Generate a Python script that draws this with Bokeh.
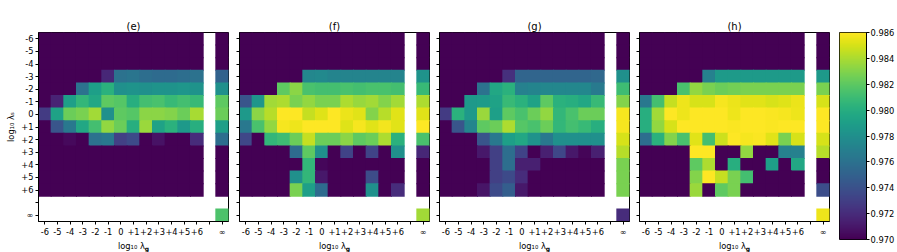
import numpy as np
from bokeh.plotting import figure
from bokeh.models import ColumnDataSource, LinearColorMapper, FixedTicker, Range1d
from bokeh.layouts import row, column
from bokeh.palettes import Viridis256
from bokeh.embed import file_html
from bokeh.resources import INLINE
from bokeh.core.properties import value

# ---------------- data ----------------
log_lambda_g = ["-6", "-5", "-4", "-3", "-2", "-1", "0", "+1", "+2", "+3", "+4", "+5", "+6"]
log_lambda_s = ["-6", "-5", "-4", "-3", "-2", "-1", "0", "+1", "+2", "+3", "+4", "+5", "+6"]
inf_label = "∞"
panel_titles = ["(e)", "(f)", "(g)", "(h)"]
D = 0.968  # below colour range (drawn as darkest colour)

# each row: lambda_s = -6 .. +6 ; columns: lambda_g = -6 .. +6, then lambda_g = inf
grid_e = [
    [D] * 14,
    [D] * 14,
    [D] * 14,
    [D, D, D, D, D, .9718, .9760, .9762, .9758, .9756, .9756, .9758, .9760, .9750],
    [D, D, D, .9760, .9790, .9802, .9780, .9782, .9780, .9782, .9782, .9784, .9782, .9780],
    [D, .9716, .9790, .9806, .9796, .9820, .9818, .9800, .9812, .9814, .9808, .9812, .9808, .9820],
    [.9728, .9792, .9824, .9828, .9838, .9780, .9820, .9818, .9832, .9832, .9830, .9824, .9839, .9824],
    [D, .9742, .9764, .9796, .9812, .9834, .9824, .9800, .9836, .9792, .9802, .9786, .9800, .9790],
    [D, D, .9704, D, .9760, .9764, .9730, .9736, D, .9708, D, D, .9720, .9758],
    [D] * 14,
    [D] * 14,
    [D] * 14,
    [D] * 14,
]
corner_e = 0.9815

grid_f = [
    [D] * 14,
    [D] * 14,
    [D] * 14,
    [D, D, D, D, D, .9774, .9776, .9772, .9772, .9772, .9772, .9772, .9772, .9782],
    [D, D, D, .9820, .9832, .9814, .9812, .9812, .9814, .9812, .9814, .9814, .9812, .9808],
    [.9742, .9784, .9838, .9840, .9828, .9834, .9828, .9828, .9840, .9835, .9838, .9830, .9838, .9840],
    [.9786, .9832, .9843, .9862, .9861, .9846, .9852, .9862, .9855, .9853, .9830, .9843, .9853, .9853],
    [.9764, .9814, .9834, .9858, .9856, .9862, .9862, .9862, .9852, .9858, .9853, .9857, .9853, .9861],
    [.9734, D, .9806, .9810, .9824, .9846, .9824, .9824, .9832, .9820, .9824, .9840, .9802, .9814],
    [D, D, D, D, .9756, .9820, .9780, D, .9732, D, .9732, D, .9780, .9718],
    [D, D, D, D, D, .9806, .9703, D, D, D, D, D, D, D],
    [D, D, D, D, .9780, .9806, .9710, D, D, D, .9737, D, D, D],
    [D, D, D, D, .9828, .9790, .9756, D, D, D, .9780, D, .9720, D],
]
corner_f = 0.9838

grid_g = [
    [D] * 14,
    [D] * 14,
    [D] * 14,
    [D, D, D, D, D, .9722, .9752, .9752, .9752, .9752, .9752, .9752, .9754, .9780],
    [D, D, D, .9760, .9796, .9802, .9770, .9772, .9774, .9774, .9774, .9774, .9766, .9810],
    [D, D, .9786, .9788, .9792, .9808, .9802, .9792, .9820, .9802, .9800, .9796, .9808, .9830],
    [.9728, .9802, .9786, .9836, .9790, .9820, .9814, .9824, .9834, .9806, .9814, .9824, .9824, .9858],
    [D, .9742, .9773, .9820, .9824, .9840, .9818, .9814, .9824, .9806, .9812, .9808, .9800, .9858],
    [D, D, D, .9742, .9764, .9790, .9796, .9782, .9764, .9780, .9780, .9780, .9780, .9850],
    [D, D, D, .9710, .9730, .9758, .9732, D, .9714, .9734, .9710, .9702, .9714, .9843],
    [D, D, D, D, .9730, .9758, .9714, .9714, D, D, D, D, D, .9828],
    [D, D, D, D, .9730, .9736, .9720, D, D, D, D, D, D, .9828],
    [D, D, D, .9709, .9736, .9748, .9710, D, D, D, D, D, D, .9828],
]
corner_g = 0.9720

grid_h = [
    [D] * 14,
    [D] * 14,
    [D] * 14,
    [D, D, D, D, D, .9770, .9787, .9787, .9787, .9787, .9787, .9787, .9787, .9786],
    [D, D, D, .9814, .9834, .9828, .9824, .9826, .9828, .9828, .9828, .9828, .9828, .9828],
    [.9764, .9812, .9846, .9856, .9850, .9850, .9858, .9855, .9853, .9853, .9850, .9852, .9855, .9850],
    [.9800, .9838, .9862, .9856, .9862, .9862, .9862, .9856, .9862, .9862, .9859, .9858, .9856, .9862],
    [.9800, .9834, .9850, .9862, .9862, .9862, .9862, .9859, .9862, .9862, .9859, .9862, .9862, .9862],
    [.9758, .9802, .9830, .9814, .9853, .9812, .9848, .9862, .9858, .9859, .9853, .9828, .9850, .9850],
    [D, D, D, D, .9862, .9862, D, D, .9834, D, D, .9770, .9770, .9843],
    [D, D, D, D, .9820, .9840, D, .9800, D, D, .9790, D, .9796, D],
    [D, D, D, D, .9830, .9862, .9846, .9828, .9812, D, D, D, D, D],
    [D, D, D, D, .9836, D, .9820, .9828, D, D, D, D, D, .9738],
]
corner_h = 0.9856

color_low, color_high = 0.970, 0.986
cbar_ticks = [0.970, 0.972, 0.974, 0.976, 0.978, 0.980, 0.982, 0.984, 0.986]
cbar_labels = ["0.970", "0.972", "0.974", "0.976", "0.978", "0.980", "0.982", "0.984", "0.986"]

grids = [grid_e, grid_f, grid_g, grid_h]
corners = [corner_e, corner_f, corner_g, corner_h]

# ---------------- styling ----------------
FONT = "DejaVu Sans"
TICK_FS = "8.3px"
mapper = LinearColorMapper(palette=Viridis256, low=color_low, high=color_high,
                           low_color=Viridis256[0], high_color=Viridis256[-1])

n = len(log_lambda_g)           # 13 finite values
inf_pos = n + 1                 # one blank slot, then infinity
tick_pos = list(range(inf_pos + 1))
xtick_text = {i: lab for i, lab in enumerate(log_lambda_g)}
xtick_text[n] = ""
xtick_text[inf_pos] = inf_label
# y: lambda_s row r (top = -6) sits at y = 14 - r
ytick_text = {inf_pos - i: lab for i, lab in enumerate(log_lambda_s)}
ytick_text[1] = ""
ytick_text[0] = inf_label

FRAME_W, FRAME_H = 190, 189
UX = FRAME_W / 15.0
TOP_B, BOT_B = 32, 16
STRIP_H = 13
OVER = 1.08  # slight overlap so neighbouring cells leave no seams


def style_axis(ax, overrides):
    ax.ticker = FixedTicker(ticks=tick_pos)
    ax.major_label_overrides = overrides
    ax.major_tick_out = 3
    ax.major_tick_in = 0
    ax.minor_tick_out = 0
    ax.minor_tick_in = 0
    ax.major_label_standoff = 2
    ax.major_label_text_font = FONT
    ax.major_label_text_font_size = TICK_FS
    ax.major_label_text_color = "black"
    ax.axis_line_color = "black"
    ax.major_tick_line_color = "black"


def heat_panel(grid, corner, title, first, left_b, right_b):
    xs, ys, vs = [], [], []
    for r, rowvals in enumerate(grid):
        for c, v in enumerate(rowvals):
            xs.append(c if c < n else inf_pos)
            ys.append(inf_pos - r)
            vs.append(v)
    xs.append(inf_pos)
    ys.append(0)
    vs.append(corner)
    src = ColumnDataSource(dict(x=xs, y=ys, v=vs))

    p = figure(frame_width=FRAME_W, frame_height=FRAME_H,
               x_range=Range1d(-0.5, 14.5), y_range=Range1d(-0.5, 14.5),
               output_backend="svg", toolbar_location=None,
               min_border_left=left_b, min_border_right=right_b,
               min_border_top=TOP_B, min_border_bottom=BOT_B,
               outline_line_color="black", outline_line_width=1,
               background_fill_color="white", border_fill_color="white")
    p.grid.visible = False
    p.rect(x="x", y="y", width=OVER, height=OVER, source=src,
           fill_color={"field": "v", "transform": mapper}, line_color=None)

    p.title.text = title
    p.title.align = "center"
    p.title.text_font = FONT
    p.title.text_font_size = "10px"
    p.title.text_font_style = "normal"
    p.title.text_color = "black"
    p.title.standoff = 2

    style_axis(p.xaxis[0], xtick_text)
    yax = p.yaxis[0]
    style_axis(yax, ytick_text if first else {i: "" for i in tick_pos})
    if first:
        yax.axis_label = "log₁₀ λₛ"
        yax.axis_label_text_font = FONT
        yax.axis_label_text_font_size = "8.3px"
        yax.axis_label_text_font_style = "normal"
        yax.axis_label_text_color = "black"
        yax.axis_label_standoff = 2

    # strip under the panel holding the x axis label  log10 lambda_g
    s = figure(frame_width=FRAME_W, frame_height=STRIP_H,
               x_range=Range1d(-0.5, 14.5), y_range=Range1d(0, STRIP_H),
               output_backend="svg", toolbar_location=None,
               x_axis_location=None, y_axis_location=None,
               min_border_left=left_b, min_border_right=right_b,
               min_border_top=0, min_border_bottom=0,
               outline_line_color=None, background_fill_color="white",
               border_fill_color="white")
    s.grid.visible = False
    join = 7.0 + 11.3 / UX
    s.text(x=[join], y=[STRIP_H - 6.5], text=["log₁₀ λ"], text_align="right",
           text_baseline="alphabetic", text_font=value(FONT), text_font_size="8.3px",
           text_color="black")
    s.text(x=[join], y=[STRIP_H - 8.5], text=["g"], text_align="left",
           text_baseline="alphabetic", text_font=value(FONT), text_font_size="6px",
           text_font_style="bold", text_color="black")
    return column(p, s, spacing=0)


panels = []
borders = [(38, 5), (6, 4), (6, 4), (6, 4)]
for i in range(4):
    panels.append(heat_panel(grids[i], corners[i], panel_titles[i], i == 0, *borders[i]))

# colour bar
cb = figure(frame_width=27, frame_height=207, x_range=Range1d(0, 1),
            y_range=Range1d(color_low, color_high), y_axis_location="right",
            output_backend="svg", toolbar_location=None,
            min_border_left=6, min_border_right=28, min_border_top=32, min_border_bottom=7,
            outline_line_color="black", outline_line_width=1,
            background_fill_color="white", border_fill_color="white")
cb.grid.visible = False
cb.xaxis.visible = False
gradient = np.linspace(color_low, color_high, 256).reshape(256, 1)
cb.image(image=[gradient], x=0, y=color_low, dw=1, dh=color_high - color_low, color_mapper=mapper)
ya = cb.yaxis[0]
ya.ticker = FixedTicker(ticks=cbar_ticks)
ya.major_label_overrides = {t: s for t, s in zip(cbar_ticks, cbar_labels)}
ya.major_tick_out = 3
ya.major_tick_in = 0
ya.minor_tick_out = 0
ya.minor_tick_in = 0
ya.major_label_standoff = 1
ya.major_label_text_font = FONT
ya.major_label_text_font_size = TICK_FS
ya.major_label_text_color = "black"
ya.axis_line_color = "black"

layout = row(*panels, cb, spacing=0)
open("out.html", "w").write(file_html(layout, INLINE))
